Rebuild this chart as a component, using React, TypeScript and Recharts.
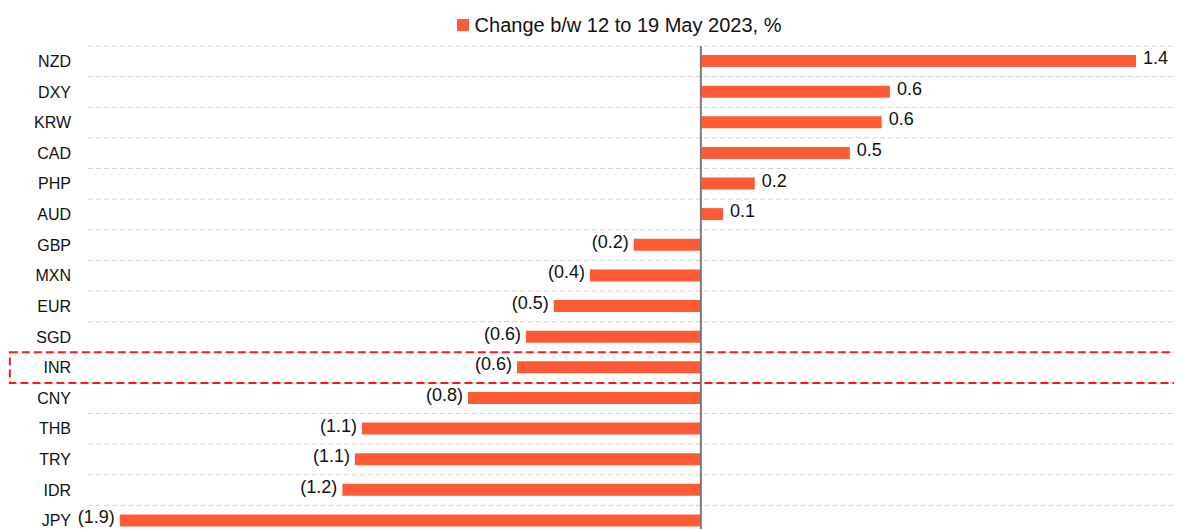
import React from 'react';
import {
  BarChart,
  Bar,
  XAxis,
  YAxis,
  CartesianGrid,
  Legend,
  LabelList,
  ReferenceLine,
  ReferenceArea,
} from 'recharts';

const currencies = ['NZD', 'DXY', 'KRW', 'CAD', 'PHP', 'AUD', 'GBP', 'MXN', 'EUR', 'SGD', 'INR', 'CNY', 'THB', 'TRY', 'IDR', 'JPY'];
const weeklyChange = [1.42, 0.617, 0.59, 0.486, 0.176, 0.072, -0.219, -0.362, -0.48, -0.571, -0.6, -0.76, -1.106, -1.129, -1.17, -1.896];
const seriesName = 'Change b/w 12 to 19 May 2023, %';
const highlighted = 'INR';

const BAR_COLOR = '#FF5A36';
const FONT = '"Liberation Sans", Arial, sans-serif';

const data = currencies.map((name, i) => ({ name, value: weeklyChange[i] }));

// 0.6 / (0.6) style labels like the original excel chart
const fmt = (v: number) => (v < 0 ? `(${Math.abs(v).toFixed(1)})` : v.toFixed(1));

const BarLabel = (props: any) => {
  const { x, y, width, height, value } = props;
  const left = Math.min(x, x + width);
  const right = Math.max(x, x + width);
  const cy = y + height / 2 - 3;
  const neg = value < 0;
  return (
    <text
      x={neg ? left - 5 : right + 7}
      y={cy}
      textAnchor={neg ? 'end' : 'start'}
      dominantBaseline="central"
      fontSize={18}
      fontFamily={FONT}
      fill="#111"
    >
      {fmt(value)}
    </text>
  );
};

const LegendContent = () => (
  <div
    style={{
      display: 'flex',
      alignItems: 'center',
      justifyContent: 'center',
      height: 34,
      paddingLeft: 48,
      fontFamily: FONT,
      fontSize: 20,
      color: '#111',
    }}
  >
    <span style={{ display: 'inline-block', width: 12, height: 12, background: BAR_COLOR, marginRight: 6 }} />
    {seriesName}
  </div>
);

export default function App() {
  return (
    <BarChart
      width={1174}
      height={530}
      data={data}
      layout="vertical"
      margin={{ top: 0, right: 0, bottom: 2, left: 0 }}
      style={{ fontFamily: FONT }}
    >
      <CartesianGrid
        vertical={false}
        stroke="#D4D4D4"
        strokeDasharray="5 3"
        horizontalCoordinatesGenerator={({ offset }: any) =>
          Array.from({ length: currencies.length + 1 }, (_, i) => offset.top + (i * offset.height) / currencies.length)
        }
      />
      <Legend verticalAlign="top" height={38} content={<LegendContent />} />
      <XAxis type="number" domain={[-2, 1.57]} allowDataOverflow hide />
      <YAxis
        type="category"
        dataKey="name"
        width={80}
        axisLine={false}
        tickLine={false}
        tickSize={0}
        tickMargin={17}
        tick={{ fontSize: 16, fill: '#111', fontFamily: FONT }}
      />
      <ReferenceArea
        y1={highlighted}
        y2={highlighted}
        x1={-2.255}
        x2={1.7}
        ifOverflow="visible"
        fill="none"
        stroke="#FF1A1A"
        strokeWidth={2}
        strokeDasharray="8 4"
      />
      <Bar dataKey="value" fill={BAR_COLOR} barSize={12} isAnimationActive={false}>
        <LabelList dataKey="value" content={<BarLabel />} />
      </Bar>
      <ReferenceLine x={0} stroke="#7A7A7A" strokeWidth={2} />
    </BarChart>
  );
}
